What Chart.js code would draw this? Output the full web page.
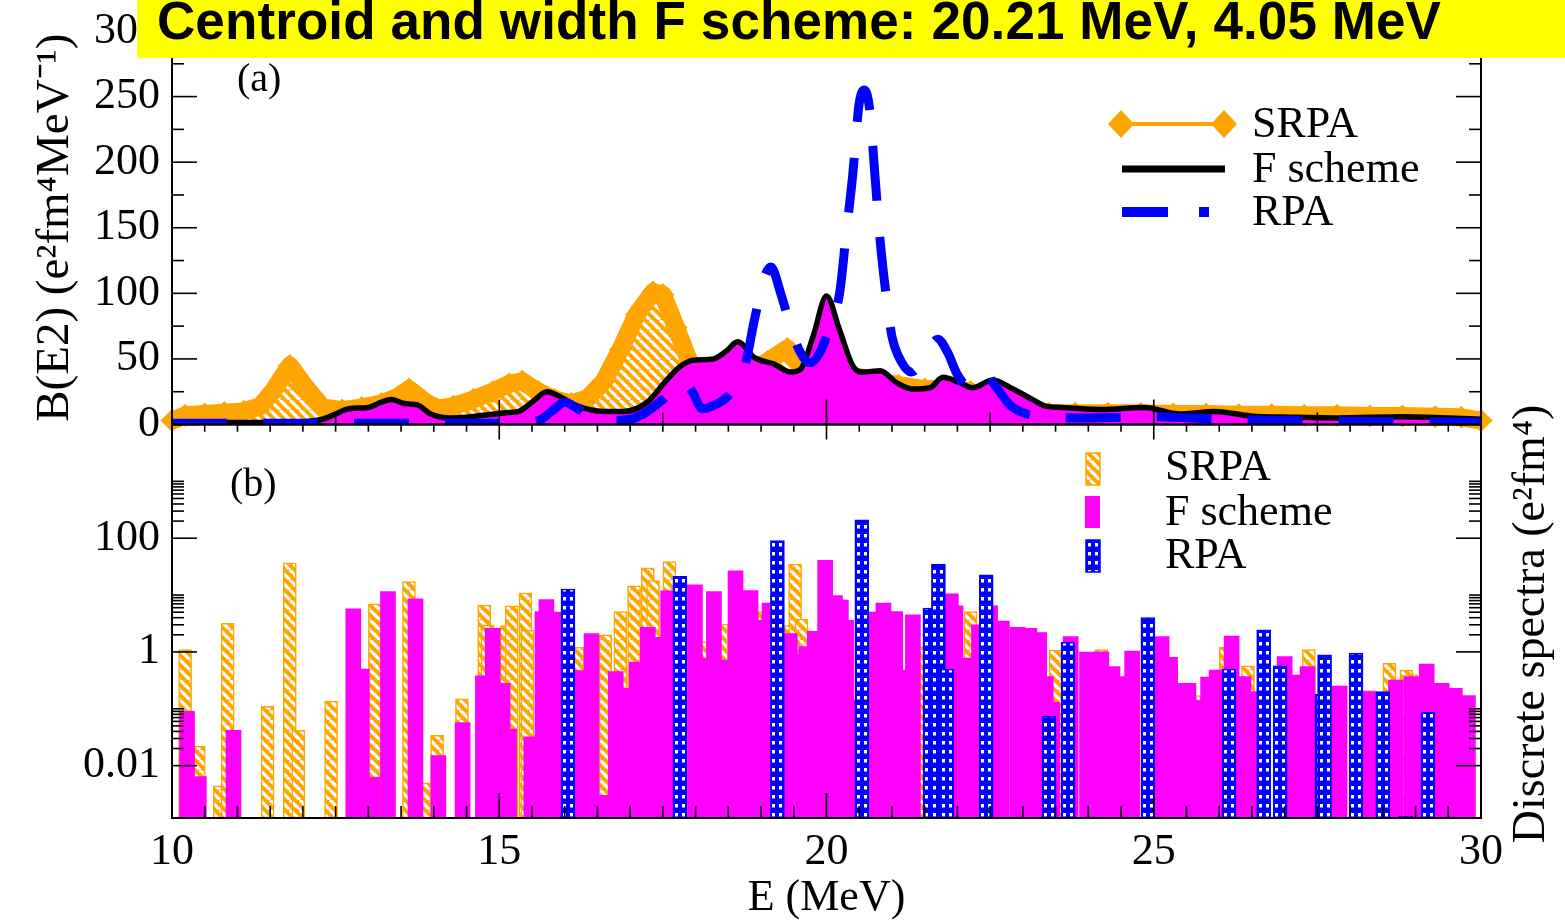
<!DOCTYPE html>
<html><head><meta charset="utf-8">
<script src="https://cdn.jsdelivr.net/npm/chart.js@4.4.1/dist/chart.umd.min.js"></script>
<style>
html,body{margin:0;padding:0;background:#fff;}
#wrap{position:relative;width:1565px;height:922px;overflow:hidden;}
#c{position:absolute;left:0;top:0;}
#banner{position:absolute;left:137px;top:0;width:1428px;height:58px;background:#ffff00;font:bold 53px "Liberation Sans",Arial,sans-serif;line-height:42px;color:#000;padding-left:20px;box-sizing:border-box;white-space:nowrap;letter-spacing:0.1px;}
</style></head><body>
<div id="wrap"><canvas id="c" width="1565" height="922"></canvas><div id="banner">Centroid and width F scheme: 20.21 MeV, 4.05 MeV</div></div>
<script>
// ---------------- data ----------------
const seriesNames = ['SRPA', 'F scheme', 'RPA'];
const xTicks = [10, 15, 20, 25, 30];
const yaTicks = [0, 50, 100, 150, 200, 250, 300];
const ybTicks = [0.01, 1, 100];

// panel (a): strength functions B(E2)
const srpaCurveE = [10.0,10.2,10.5,10.8,11.1,11.35,11.55,11.8,12.05,12.3,12.6,12.9,13.2,13.45,13.62,13.85,14.05,14.3,14.6,14.9,15.15,15.35,15.6,15.85,16.1,16.35,16.6,16.85,17.1,17.35,17.5,17.7,17.92,18.15,18.5,18.8,19.1,19.4,19.65,19.9,20.3,20.7,21.1,21.5,21.9,22.2,22.5,22.8,23.1,23.4,23.8,24.3,24.8,25.3,25.8,26.3,26.8,27.3,27.8,28.3,28.8,29.3,29.7,30.0];
const srpaCurveB = [3,7,8,9,10,14,26,45,28,13,11,13,16,21,27,18,12,14,19,25,31,33,25,19,16,20,33,57,84,101,99,74,46,38,35,40,48,58,45,40,38,34,30,27,27,25,20,15,11,8.5,8.5,8.5,8.5,8,8,7.5,7.5,7,7,6.5,6.5,6,5.5,3];

const fCurveE = [10.0,10.5,11.0,11.5,12.0,12.3,12.5,12.7,13.0,13.2,13.35,13.55,13.75,13.95,14.25,14.5,14.75,15.1,15.3,15.5,15.73,15.9,16.2,16.6,16.9,17.26,17.56,17.76,17.96,18.27,18.47,18.64,18.9,19.2,19.45,19.6,19.8,20.0,20.2,20.41,20.56,20.82,21.07,21.32,21.58,21.78,22.03,22.23,22.54,22.85,23.15,23.35,23.6,24.2,24.85,25.4,25.93,26.48,27.15,27.8,28.8,29.5,30.0];
const fCurveB = [1.5,1.5,1.5,1.5,2,4,8,12,13,17,19,16,15,8,5,5.5,7,9,10,17,25,22,14,10,10,17,34,44,49,50,56,63,51,46,40,42,68,98,72,44,40,41,32,27,28,36,32,28,34,27,19,14,13,11.5,13,8,10,6.5,5.5,5,6,5,4];

const rpaCurveE = [10,11,12,13,14,15,15.3,15.6,15.8,16.0,16.2,16.4,16.7,17.0,17.2,17.5,17.8,17.95,18.1,18.25,18.5,18.75,18.9,19.05,19.15,19.3,19.45,19.6,19.75,19.92,20.05,20.2,20.3,20.4,20.5,20.58,20.66,20.74,20.82,20.92,21.0,21.1,21.3,21.5,21.7,21.85,22.0,22.15,22.4,22.6,22.8,23.0,23.3,24,25,26,27,28,29,30];
const rpaCurveB = [1,1,1,1,1,1,1.5,3,10,17,12,6,3,4,8,19,33,25,12,14,22,44,80,112,120,100,75,55,47,57,75,100,145,190,245,255,240,190,140,95,67,52,40,52,65,55,38,30,40,28,15,9,6,5,6,4,3,2.5,2,2];

// panel (b): discrete spectra
const srpaBarE = [10.2,10.41,10.73,10.85,11.46,11.8,11.93,12.43,13.02,13.1,13.62,13.9,14.05,14.43,14.77,14.82,15.11,15.19,15.4,15.43,16.2,16.62,16.85,17.06,17.27,17.35,17.6,18.1,18.4,19.05,19.38,19.52,19.62,21.4,22.2,23.5,24.2,25.7,26.1,26.44,27.37,27.82,28.28,28.6,28.86,28.93];
const srpaBarS = [1.1,0.022,0.0044,3.2,0.11,37,0.042,0.137,0.075,7,17.3,0.005,0.034,0.15,6.7,3,2.9,6.5,11,2.4,1.2,2.0,5.1,14.5,30,18,39,1.5,3.1,5.1,2.9,35,3.8,1.24,5.1,1.08,1.1,0.17,1.2,0.57,1.1,0.25,0.21,0.63,0.48,0.4];

const fBarE = [10.23,10.41,10.94,12.77,12.9,13.06,13.3,13.72,14.07,14.44,14.75,14.9,15.05,15.15,15.49,15.66,15.72,15.86,16.22,16.41,16.6,16.78,16.95,17.1,17.27,17.45,17.58,17.99,18.14,18.28,18.45,18.61,18.84,19.0,19.13,19.44,19.58,19.69,19.82,19.98,20.13,20.22,20.3,20.38,20.7,20.87,21.05,21.18,21.32,21.9,21.97,22.08,22.2,22.33,22.5,22.68,22.92,23.1,23.25,23.35,23.45,23.73,23.98,24.2,24.37,24.48,24.67,25.12,25.25,25.35,25.53,25.72,25.83,25.96,26.19,26.37,26.48,27.0,27.18,27.35,27.84,28.29,28.7,28.94,29.17,29.4,29.6,29.8];
const fBarS = [0.09,0.0064,0.042,5.7,0.5,0.0063,11.5,8.6,0.015,0.057,0.38,2.6,0.28,0.044,0.032,5.1,8.3,5,0.47,2.1,0.003,0.45,0.23,0.66,2.7,1.8,11.9,15.2,0.77,11.5,0.72,26.7,12,3.6,7.2,2.1,0.89,1.24,2.3,41,9.8,8.2,3.6,0.14,5,7.2,5.1,0.48,4.5,10.5,6.5,0.64,0.78,3,6.5,3.5,2.7,2.6,2.2,0.37,0.13,1.86,0.99,1.0,0.55,0.37,1.04,1.86,0.8,0.28,0.28,0.14,0.36,0.48,1.9,0.37,0.2,0.83,0.39,0.55,0.25,0.2,0.32,0.37,0.61,0.28,0.23,0.17];

const rpaBarE = [16.05,17.76,19.25,20.54,21.58,21.71,21.84,22.44,23.4,23.69,24.91,26.15,26.68,26.93,27.57,27.61,28.09,28.5,28.85,29.19];
const rpaBarS = [12.7,21.3,91,211,5.9,35,0.5,22.8,0.074,1.48,4.0,0.5,2.44,0.57,0.18,0.89,0.95,0.2,0.0013,0.087];

// ---------------- style ----------------
const SERIF = '"Liberation Serif", "Times New Roman", serif';
const ORANGE = '#ffa500', MAGENTA = '#ff00ff', BLUE = '#0000ff';
const YB_MIN = 0.0012, YB_MAX = 10000;

const canvas = document.getElementById('c');
const ctx0 = canvas.getContext('2d');

function makeHatch() {
  const c = document.createElement('canvas'); c.width = 10; c.height = 10;
  const g = c.getContext('2d');
  g.fillStyle = ORANGE; g.fillRect(0, 0, 10, 10);
  g.strokeStyle = '#ffffff'; g.lineWidth = 3.2;
  g.beginPath();
  [-10, 0, 10].forEach(o => { g.moveTo(o, 0); g.lineTo(o + 10, 10); });
  g.stroke();
  return ctx0.createPattern(c, 'repeat');
}
const dotTile = (() => {
  const c = document.createElement('canvas'); c.width = 7; c.height = 9;
  const g = c.getContext('2d');
  g.fillStyle = BLUE; g.fillRect(0, 0, 7, 9);
  g.fillStyle = '#ffffff'; g.fillRect(2, 3, 3, 3.5);
  return c;
})();
function dotPattern(leftPx) {
  const p = ctx0.createPattern(dotTile, 'repeat');
  p.setTransform(new DOMMatrix().translate(leftPx, 0));
  return p;
}
const hatch = makeHatch();

const pts = (E, V) => E.map((e, i) => ({ x: e, y: V[i] }));
const bars = (E, V) => E.map((e, i) => ({ x: e, y: [YB_MIN, V[i]] }));

// ---------------- plugin: frames, inward ticks, legends, labels ----------------
const decor = {
  id: 'decor',
  afterDatasetsDraw(chart) {
    const { ctx, scales: { x, ya, yb } } = chart;
    const L = x.left, R = x.right;
    ctx.save();
    ctx.strokeStyle = '#000'; ctx.lineWidth = 2;
    ctx.strokeRect(L, ya.top, R - L, ya.bottom - ya.top);
    ctx.strokeRect(L, yb.top, R - L, yb.bottom - yb.top);
    ctx.lineWidth = 1.6;
    const seg = (x1, y1, x2, y2) => { ctx.beginPath(); ctx.moveTo(x1, y1); ctx.lineTo(x2, y2); ctx.stroke(); };
    const MAJ = 25, MIN = 12;
    // panel (a) y ticks
    for (let v = 0; v <= 300; v += 25) {
      const py = ya.getPixelForValue(v); const len = v % 50 === 0 ? MAJ : MIN;
      seg(L, py, L + len, py); seg(R, py, R - len, py);
    }
    // panel (a) x ticks
    for (let v = 10; v <= 30.001; v += 2.5) {
      const px = x.getPixelForValue(v); const len = Math.abs(v % 5) < 1e-6 ? MAJ : MIN;
      seg(px, ya.bottom, px, ya.bottom - len); seg(px, ya.top, px, ya.top + len);
    }
    // panel (b) x ticks
    for (let v = 10; v <= 30.001; v += 0.5) {
      const px = x.getPixelForValue(v); const len = Math.abs(v % 5) < 1e-6 ? MAJ : MIN;
      seg(px, yb.bottom, px, yb.bottom - len); seg(px, yb.top, px, yb.top + len * 0.6);
    }
    // panel (b) log ticks
    ybTicks.forEach(m => {
      const py = yb.getPixelForValue(m);
      seg(L, py, L + MAJ, py); seg(R, py, R - MAJ, py);
      for (let k = 2; k <= 10; k++) {
        const q = yb.getPixelForValue(m * k);
        seg(L, q, L + MIN, q); seg(R, q, R - MIN, q);
      }
    });
    ctx.restore();
  },
  afterDraw(chart) {
    const { ctx } = chart;
    const ds = chart.data.datasets;
    ctx.save();
    ctx.fillStyle = '#000';
    ctx.textBaseline = 'middle';
    // panel labels
    ctx.font = '40px ' + SERIF; ctx.textAlign = 'left';
    ctx.fillText('(a)', 237, 80);
    ctx.fillText('(b)', 230, 485);
    // legend (a)
    ctx.font = '44px ' + SERIF;
    const lx = 1252;
    ctx.fillText(ds[0].label, lx, 125);
    ctx.fillText(ds[1].label, lx, 170);
    ctx.fillText(ds[2].label, lx, 213);
    ctx.strokeStyle = ORANGE; ctx.lineWidth = 4;
    ctx.beginPath(); ctx.moveTo(1121, 124); ctx.lineTo(1224, 124); ctx.stroke();
    ctx.fillStyle = ORANGE;
    [1121, 1224].forEach(cx => {
      ctx.beginPath(); ctx.moveTo(cx - 13, 124); ctx.lineTo(cx, 110); ctx.lineTo(cx + 13, 124); ctx.lineTo(cx, 138); ctx.closePath(); ctx.fill();
    });
    ctx.strokeStyle = '#000'; ctx.lineWidth = 7;
    ctx.beginPath(); ctx.moveTo(1122, 169); ctx.lineTo(1225, 169); ctx.stroke();
    ctx.fillStyle = BLUE;
    ctx.fillRect(1122, 207, 46, 10);
    ctx.fillRect(1199, 207, 10, 10);
    // legend (b)
    ctx.fillStyle = '#000';
    const tx = 1165;
    ctx.fillText(ds[3].label, tx, 468);
    ctx.fillText(ds[4].label, tx, 513);
    ctx.fillText(ds[5].label, tx, 556);
    ctx.fillStyle = hatch; ctx.fillRect(1086, 453, 14, 32);
    ctx.strokeStyle = ORANGE; ctx.lineWidth = 1.5; ctx.strokeRect(1086, 453, 14, 32);
    ctx.fillStyle = MAGENTA; ctx.fillRect(1085, 496, 15, 32);
    ctx.fillStyle = dotPattern(1086); ctx.fillRect(1086, 540, 14, 32);
    ctx.strokeStyle = BLUE; ctx.strokeRect(1086, 540, 14, 32);
    // right axis title
    ctx.fillStyle = '#000'; ctx.font = '46px ' + SERIF;
    ctx.translate(1532, 624); ctx.rotate(-Math.PI / 2);
    ctx.textAlign = 'center';
    ctx.fillText('Discrete spectra (e²fm⁴)', 0, 0);
    ctx.restore();
  }
};

const tickFont = { family: SERIF, size: 44 };
const titleFont = { family: SERIF, size: 47, lineHeight: 1.0 };

new Chart(canvas, {
  type: 'bar',
  data: {
    datasets: [
      { type: 'line', label: seriesNames[0], yAxisID: 'ya', data: pts(srpaCurveE, srpaCurveB),
        borderColor: ORANGE, borderWidth: 18, borderJoinStyle: 'round', tension: 0,
        pointStyle: 'rectRot', pointRadius: 11, pointBackgroundColor: ORANGE, pointBorderColor: ORANGE, pointBorderWidth: 1,
        backgroundColor: hatch, fill: 'origin', clip: false, order: 50 },
      { type: 'line', label: seriesNames[1], yAxisID: 'ya', data: pts(fCurveE, fCurveB),
        borderColor: '#000', borderWidth: 5.5, backgroundColor: MAGENTA, fill: 'origin',
        pointRadius: 0, cubicInterpolationMode: 'monotone', order: 40 },
      { type: 'line', label: seriesNames[2], yAxisID: 'ya', data: pts(rpaCurveE, rpaCurveB),
        borderColor: BLUE, borderWidth: 9, borderDash: [55, 36], borderCapStyle: 'butt', fill: false,
        pointRadius: 0, cubicInterpolationMode: 'monotone', order: 30 },
      { type: 'bar', label: seriesNames[0], yAxisID: 'yb', data: bars(srpaBarE, srpaBarS),
        backgroundColor: hatch, borderColor: ORANGE, borderWidth: 1.5, borderSkipped: false,
        barThickness: 13, grouped: false, order: 20 },
      { type: 'bar', label: seriesNames[1], yAxisID: 'yb', data: bars(fBarE, fBarS),
        backgroundColor: MAGENTA, borderWidth: 0, barThickness: 15, grouped: false, order: 10 },
      { type: 'bar', label: seriesNames[2], yAxisID: 'yb', data: bars(rpaBarE, rpaBarS),
        backgroundColor: (c) => {
          if (c.type !== 'data' || !c.chart.chartArea) return BLUE;
          const px = c.chart.scales.x.getPixelForValue(rpaBarE[c.dataIndex]);
          return dotPattern(Math.round(px - 7));
        },
        borderColor: BLUE, borderWidth: 1.5, borderSkipped: false,
        barThickness: 14, grouped: false, order: 0 }
    ]
  },
  options: {
    responsive: false, animation: false, events: [],
    layout: { padding: { top: 31, right: 84, left: 0, bottom: 0 } },
    plugins: { legend: { display: false }, tooltip: { enabled: false }, title: { display: false } },
    scales: {
      x: {
        type: 'linear', min: 10, max: 30, offset: false,
        grid: { display: false, drawTicks: false }, border: { display: false },
        afterBuildTicks: s => { s.ticks = xTicks.map(v => ({ value: v })); },
        afterFit: s => { s.height = 104; s.paddingLeft = 0; s.paddingRight = 0; },
        ticks: { autoSkip: false, maxRotation: 0, padding: 8, color: '#000', font: tickFont, callback: v => String(v) },
        title: { display: true, text: 'E (MeV)', color: '#000', font: { family: SERIF, size: 44, lineHeight: 1.0 }, padding: { top: 0, bottom: 2 } }
      },
      yb: {
        type: 'logarithmic', position: 'left', stack: 'panels', stackWeight: 1, min: YB_MIN, max: YB_MAX,
        grid: { display: false, drawTicks: false }, border: { display: false },
        afterBuildTicks: s => { s.ticks = ybTicks.map(v => ({ value: v })); },
        afterFit: s => { s.width = 172; s.paddingTop = 0; s.paddingBottom = 0; },
        ticks: { autoSkip: false, padding: 12, color: '#000', font: tickFont, callback: v => String(v) }
      },
      ya: {
        type: 'linear', position: 'left', stack: 'panels', stackWeight: 1, min: 0, max: 300,
        grid: { display: false, drawTicks: false }, border: { display: false },
        afterBuildTicks: s => { s.ticks = yaTicks.map(v => ({ value: v })); },
        afterFit: s => { s.width = 172; s.paddingTop = 0; s.paddingBottom = 0; },
        ticks: { autoSkip: false, padding: 12, color: '#000', font: tickFont, callback: v => String(v) },
        title: { display: true, text: 'B(E2) (e²fm⁴MeV⁻¹)', color: '#000', font: titleFont, padding: { top: 32, bottom: 0 } }
      }
    }
  },
  plugins: [decor]
});
</script>
</body></html>
